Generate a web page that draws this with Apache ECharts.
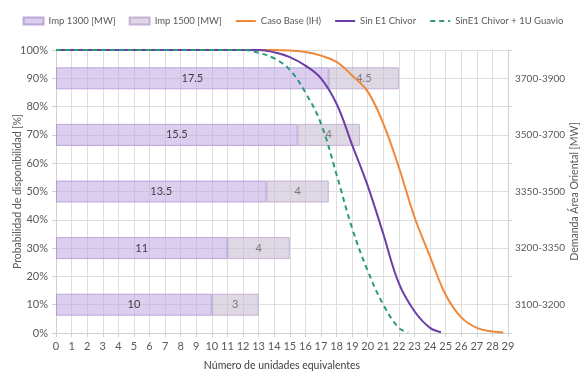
<!DOCTYPE html>
<html><head><meta charset="utf-8">
<script src="https://cdn.jsdelivr.net/npm/echarts@6/dist/echarts.min.js"></script>
<style>html,body{margin:0;padding:0;background:#fff}#c{width:586px;height:378px}</style>
</head><body><div id="c"></div>
<script>
const demandCats = ['3100-3200','3200-3350','3350-3500','3500-3700','3700-3900'];
const imp1300 = [10, 11, 13.5, 15.5, 17.5];
const imp1500 = [3, 4, 4, 4, 4.5];
const xTicks = [0,29,1];
const casoBase = [[0,100],[14,100],[15,99.8],[16,99.3],[17,98],[18,95.8],[19,91],[20,85.3],[21,74],[22,58.5],[23,41],[24,27],[25,13.5],[26,5.5],[27,1.8],[28,0.5],[28.7,0.2]];
const sinChivor = [[0,100],[13,100],[14,99.2],[15,97.5],[16,94.5],[17,90],[18,81],[19,66.5],[20,52],[21,35],[22,17.5],[23,7.7],[24,1.8],[24.7,0.3]];
const sinChivorGuavio = [[0,100],[12,100],[13,99],[14,97],[15,93],[16,85],[17,74],[18,56],[19,37],[20,22],[21,10],[22,1.8],[22.6,0.3]];

const FONT = 'Lato, "Open Sans", sans-serif';
const grey = '#595959';
const chart = echarts.init(document.getElementById('c'));
const hideSym = {opacity: 0};
chart.setOption({
  animation: false,
  textStyle: {fontFamily: FONT},
  legend: {
    top: 11, left: 'center', itemGap: 13, itemWidth: 20, itemHeight: 7,
    textStyle: {fontSize: 9.5, color: grey, fontFamily: FONT},
    data: [
      {name: 'Imp 1300 [MW]', icon: 'rect'},
      {name: 'Imp 1500 [MW]', icon: 'rect'},
      {name: 'Caso Base (IH)', itemStyle: hideSym},
      {name: 'Sin E1 Chivor', itemStyle: hideSym},
      {name: 'SinE1 Chivor + 1U Guavio', itemStyle: hideSym}
    ]
  },
  grid: {left: 56, right: 78, top: 50, bottom: 45, containLabel: false, outerBoundsMode: 'none'},
  xAxis: {
    type: 'value', min: xTicks[0], max: xTicks[1], interval: xTicks[2],
    name: 'Número de unidades equivalentes', nameLocation: 'middle', nameGap: 27, nameMoveOverlap: false,
    nameTextStyle: {fontSize: 10.5, color: '#404040', fontFamily: FONT},
    axisLine: {show: true, lineStyle: {color: '#d0d0d0'}},
    axisTick: {show: true, length: 4, lineStyle: {color: '#d0d0d0'}},
    axisLabel: {fontSize: 11, color: grey, margin: 8, fontFamily: FONT},
    splitLine: {show: true, lineStyle: {color: '#dedede', width: 1}}
  },
  yAxis: [
    {
      type: 'value', min: 0, max: 100, interval: 10,
      name: 'Probabilidad de disponibilidad [%]', nameLocation: 'middle', nameGap: 33, nameMoveOverlap: false,
      nameTextStyle: {fontSize: 10.5, color: grey, fontFamily: FONT},
      axisLine: {show: true, lineStyle: {color: '#d0d0d0'}},
      axisTick: {show: true, length: 4, lineStyle: {color: '#d0d0d0'}},
      axisLabel: {fontSize: 11, color: grey, formatter: '{value}%', fontFamily: FONT},
      splitLine: {show: true, lineStyle: {color: '#dedede', width: 1}}
    },
    {
      type: 'category', position: 'right', data: demandCats,
      name: 'Demanda Área Oriental [MW]', nameLocation: 'middle', nameGap: 61, nameRotate: 90, nameMoveOverlap: false,
      nameTextStyle: {fontSize: 10.5, color: grey, fontFamily: FONT},
      axisLine: {show: true, lineStyle: {color: '#d0d0d0'}},
      axisTick: {show: true, length: 4, lineStyle: {color: '#d0d0d0'}},
      axisLabel: {fontSize: 10, color: grey, margin: 7, fontFamily: FONT},
      splitLine: {show: false}
    }
  ],
  series: [
    {
      name: 'Imp 1300 [MW]', type: 'bar', stack: 'imp', xAxisIndex: 0, yAxisIndex: 1,
      data: imp1300, barWidth: 22, z: 1,
      itemStyle: {color: 'rgba(190,165,225,0.55)', borderColor: 'rgba(170,140,205,0.7)', borderWidth: 1},
      label: {show: true, position: 'inside', color: '#404040', fontSize: 11, fontFamily: FONT}
    },
    {
      name: 'Imp 1500 [MW]', type: 'bar', stack: 'imp', xAxisIndex: 0, yAxisIndex: 1,
      data: imp1500, barWidth: 22, z: 1,
      itemStyle: {color: 'rgba(200,190,212,0.6)', borderColor: 'rgba(185,165,205,0.8)', borderWidth: 1},
      label: {show: true, position: 'inside', color: '#7a7a7a', fontSize: 11, fontFamily: FONT}
    },
    {
      name: 'Caso Base (IH)', type: 'line', xAxisIndex: 0, yAxisIndex: 0, data: casoBase,
      smooth: 0.4, showSymbol: false, symbol: 'none', z: 5,
      lineStyle: {color: '#f0883a', width: 2}, itemStyle: {color: '#f0883a'}
    },
    {
      name: 'Sin E1 Chivor', type: 'line', xAxisIndex: 0, yAxisIndex: 0, data: sinChivor,
      smooth: 0.4, showSymbol: false, symbol: 'none', z: 6,
      lineStyle: {color: '#6a3fa6', width: 2}, itemStyle: {color: '#6a3fa6'}
    },
    {
      name: 'SinE1 Chivor + 1U Guavio', type: 'line', xAxisIndex: 0, yAxisIndex: 0, data: sinChivorGuavio,
      smooth: 0.4, showSymbol: false, symbol: 'none', z: 7,
      lineStyle: {color: '#2a9a78', width: 2, type: [5, 4]}, itemStyle: {color: '#2a9a78'}
    }
  ]
});
</script>
</body></html>
